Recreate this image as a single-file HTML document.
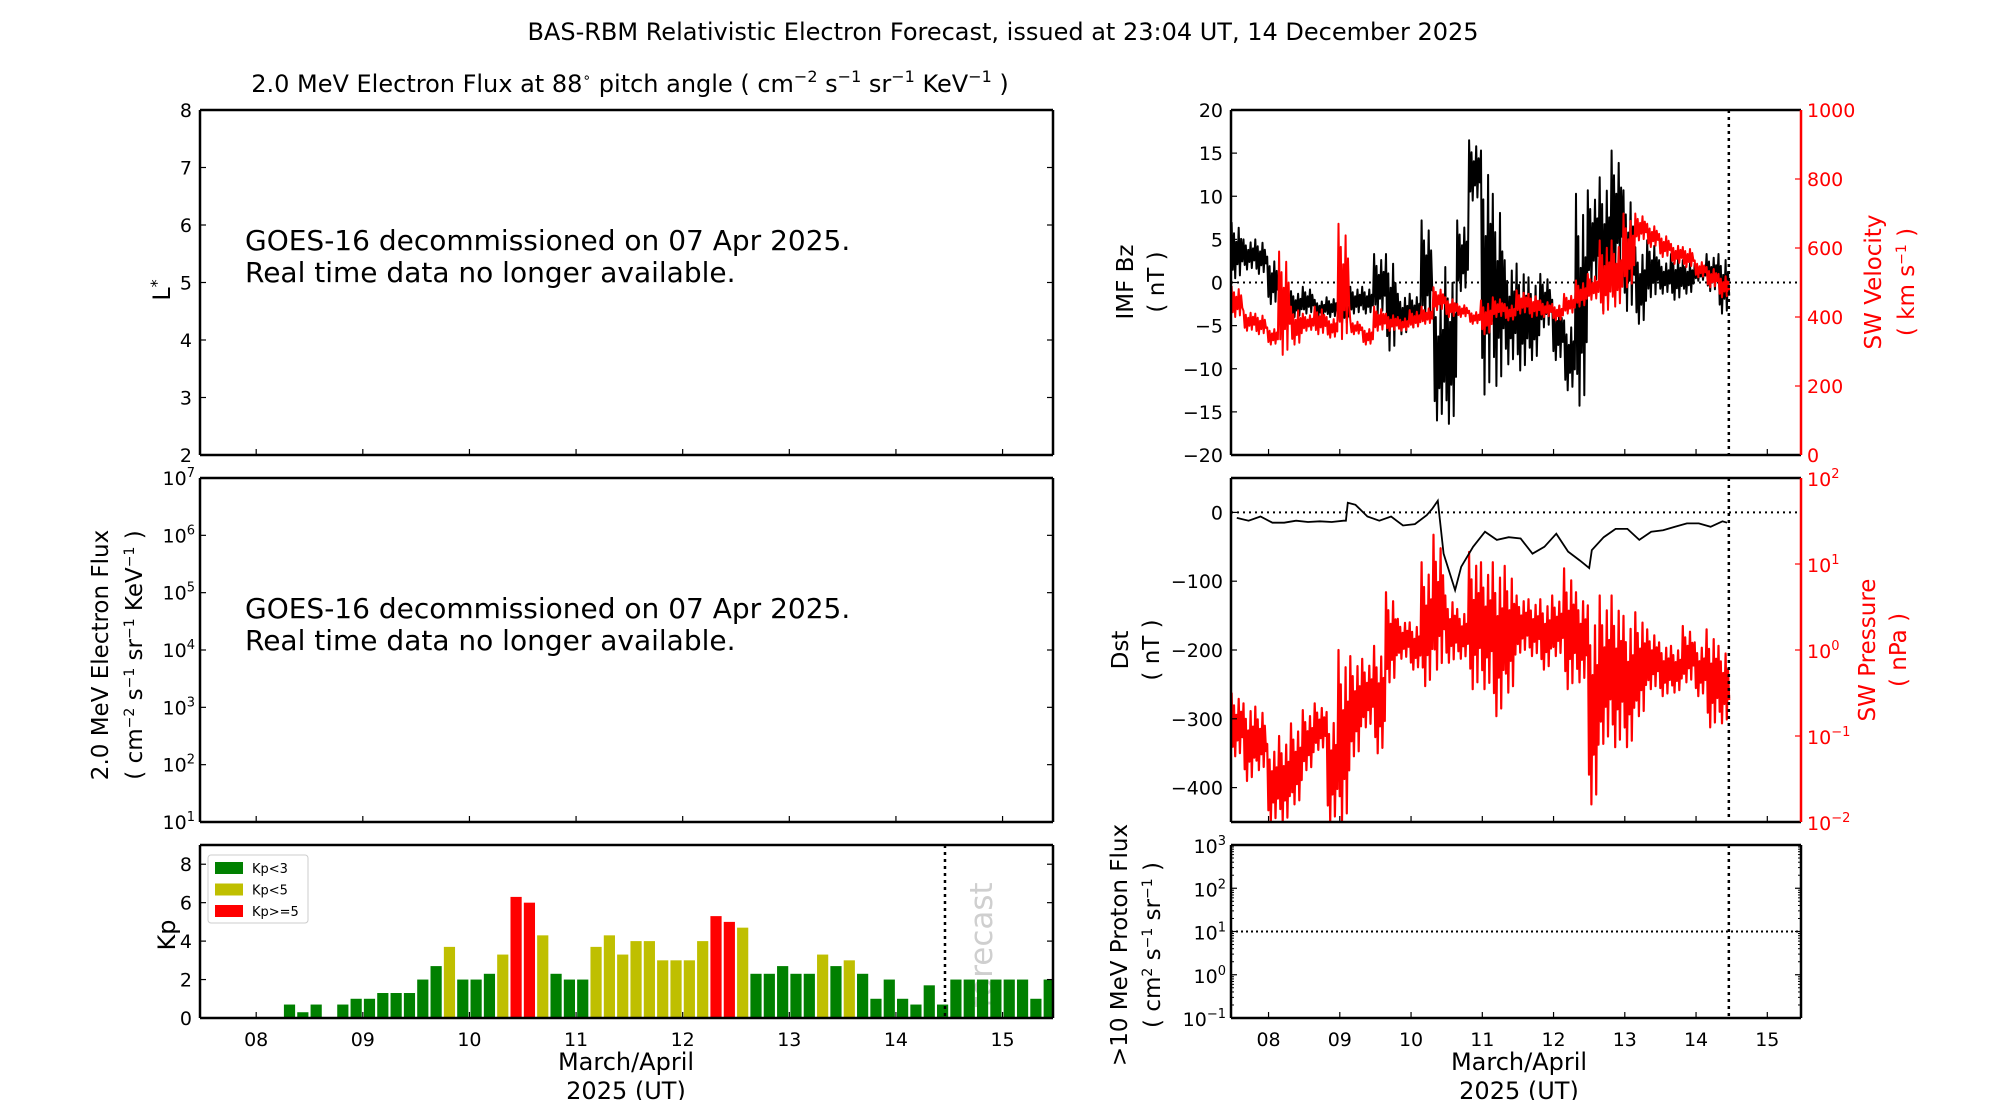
<!DOCTYPE html>
<html><head><meta charset="utf-8"><style>
html,body{margin:0;padding:0;background:#fff;}
svg{display:block;font-family:"DejaVu Sans","Liberation Sans",sans-serif;}
</style></head><body>
<svg id="chart" width="2000" height="1100" viewBox="0 0 2000 1100" xmlns="http://www.w3.org/2000/svg">
<rect x="0" y="0" width="2000" height="1100" fill="#fff"/>
<text x="1003" y="40" font-size="24" text-anchor="middle">BAS-RBM Relativistic Electron Forecast, issued at 23:04 UT, 14 December 2025</text>
<text x="630" y="92" font-size="24" text-anchor="middle">2.0 MeV Electron Flux at 88<tspan font-size="14" dy="-10">∘</tspan><tspan dy="10"> pitch angle ( cm</tspan><tspan font-size="16" dy="-10">−2</tspan><tspan dy="10"> s</tspan><tspan font-size="16" dy="-10">−1</tspan><tspan dy="10"> sr</tspan><tspan font-size="16" dy="-10">−1</tspan><tspan dy="10"> KeV</tspan><tspan font-size="16" dy="-10">−1</tspan><tspan dy="10"> )</tspan></text>
<g id="layer"></g>
</svg>
<script>
// ---- data ----
const kpValues = [0,0,0,0,0,0,0.7,0.3,0.7,0,0.7,1,1,1.3,1.3,1.3,2,2.7,3.7,2,2,2.3,3.3,6.3,6,4.3,2.3,2,2,3.7,4.3,3.3,4,4,3,3,3,4,5.3,5,4.7,2.3,2.3,2.7,2.3,2.3,3.3,2.7,3,2.3,1,2,1,0.7,1.7,0.7,2,2,2,2,2,2,1,2];
const dayTickLabels = ["08","09","10","11","12","13","14","15"];
const lstarTicks = [2,3,4,5,6,7,8];
const fluxDecades = [1,2,3,4,5,6,7];
const kpTicks = [0,2,4,6,8];
const bzTicks = [-20,-15,-10,-5,0,5,10,15,20];
const velTicks = [0,200,400,600,800,1000];
const dstTicks = [0,-100,-200,-300,-400];
const presDecades = [-2,-1,0,1,2];
const protonDecades = [-1,0,1,2,3];
// 4-hour bins starting 7.973 (days)
const bzLo = [0.5,1.5,1,-2.5,-3.6,-4,-3.6,-4,-4,-4.8,-3.6,-3.6,-3.6,-7.9,-6,-5.2,-4.4,-16,-16.4,-1,9.5,-13,-12,-9.5,-10.2,-9,-5.2,-9,-12.5,-14.3,-0.2,-3.3,1,-3.3,-4.8,-1.7,-1.3,-2,-1.3,0.2,-1,-3.6];
const bzHi = [7,5,5,3,-0.5,-1,-0.5,-2,-1.7,-2,-0.5,-0.5,3.3,3.3,-1.3,-1.3,7.2,-1,1.8,7.2,16.5,15.3,10.3,2.6,2.2,0.6,1,-2,-4.4,10.3,10.7,12.2,15.3,10.7,4.1,4.9,2.6,3.3,2.6,2.2,3.3,3.3];
const velLo = [400,360,350,320,290,320,360,350,340,336,350,320,360,360,360,370,380,420,400,400,380,350,400,390,410,400,400,390,410,430,450,410,430,486,622,603,574,554,545,515,486,457];
const velHi = [490,418,410,370,590,430,410,430,400,670,390,370,430,410,400,420,430,486,457,438,418,448,457,438,477,467,448,438,467,506,525,622,622,700,700,670,641,612,603,564,545,525];
const presLo = [0.058,0.03,0.04,0.01,0.01,0.016,0.04,0.069,0.01,0.01,0.058,0.126,0.063,0.42,0.79,0.59,0.38,0.59,0.71,0.79,0.35,0.35,0.17,0.32,0.93,0.85,0.59,0.85,0.35,0.42,0.016,0.081,0.074,0.074,0.17,0.35,0.29,0.32,0.42,0.29,0.126,0.14];
const presHi = [0.32,0.24,0.22,0.081,0.1,0.14,0.2,0.24,0.19,1,0.85,0.79,1.12,4.7,2.3,2.1,10.5,21.9,4.3,3.0,13.8,10.5,10.5,9.5,4.3,3.9,3.9,4.3,8.9,4.7,3.3,4.3,4.3,2.5,2.75,1.74,1.23,1.12,1.9,1.23,1.74,1.12];
const dstTime = [8.054,8.220,8.387,8.554,8.720,8.887,9.054,9.220,9.387,9.554,9.586,9.613,9.720,9.887,10.054,10.220,10.387,10.554,10.720,10.795,10.876,10.957,11.118,11.204,11.371,11.538,11.704,11.871,12.038,12.204,12.371,12.538,12.704,12.871,13.0,13.037,13.204,13.371,13.537,13.704,13.871,14.038,14.204,14.371,14.538,14.704,14.871,14.935];
const dstValue = [-8,-12,-6,-15,-15,-12,-14,-13,-14,-12,-12,14,11,-6,-12,-6,-19,-17,-4,5,17,-60,-113,-79,-50,-28,-40,-36,-38,-60,-50,-31,-57,-70,-81,-55,-36,-24,-24,-40,-28,-26,-21,-16,-16,-21,-13,-15];
const binStart = 7.973, binDays = 1/6, tMin = 7.973, tMax = 15.973, issueTime = 14.96;

// ---- helpers ----
const NS = "http://www.w3.org/2000/svg";
const layer = document.getElementById('layer');
function el(tag, attrs, parent){ const e=document.createElementNS(NS,tag); for(const k in attrs) e.setAttribute(k,attrs[k]); (parent||layer).appendChild(e); return e; }
function txt(s, attrs, parent){ const e=el('text',attrs,parent); e.textContent=s; return e; }
function sup(parent, base, exp, x, y, anchor, fill){
  const t=el('text',{x:x,y:y,'font-size':19,'text-anchor':anchor,fill:fill||'#000'},parent);
  const a=document.createElementNS(NS,'tspan'); a.textContent=base; t.appendChild(a);
  const b=document.createElementNS(NS,'tspan'); b.setAttribute('font-size','13'); b.setAttribute('dy','-8'); b.textContent=exp; t.appendChild(b);
  return t;
}
const L={x0:200,x1:1053}, R={x0:1231,x1:1801};
const P1={y0:110,y1:455}, P2={y0:478,y1:822}, P3={y0:845,y1:1018};
function xs(pan){ return t => pan.x0 + (t-tMin)/(tMax-tMin)*(pan.x1-pan.x0); }
function lin(p, a, b){ return v => p.y1 - (v-a)/(b-a)*(p.y1-p.y0); }
function logs(p, a, b){ return v => p.y1 - (Math.log10(v)-a)/(b-a)*(p.y1-p.y0); }
const xL=xs(L), xR=xs(R);

function frame(pan, p, name){
  const g=el('g',{});
  
  
  const clip=el('clipPath',{id:'clip-'+name},g);
  el('rect',{x:pan.x0,y:p.y0,width:pan.x1-pan.x0,height:p.y1-p.y0},clip);
  const plot=el('g',{'clip-path':'url(#clip-'+name+')'},g);
  return {g,plot};
}
function spines(g, pan, p, rightColor){
  el('line',{x1:pan.x0,y1:p.y0,x2:pan.x1,y2:p.y0,stroke:'#000','stroke-width':2.5},g);
  el('line',{x1:pan.x0,y1:p.y1,x2:pan.x1,y2:p.y1,stroke:'#000','stroke-width':2.5},g);
  el('line',{x1:pan.x0,y1:p.y0,x2:pan.x0,y2:p.y1,stroke:'#000','stroke-width':2.5},g);
  el('line',{x1:pan.x1,y1:p.y0,x2:pan.x1,y2:p.y1,stroke:rightColor||'#000','stroke-width':2.5},g);
}
function xTicks(g, pan, p, xf, labels){
  dayTickLabels.forEach((lab,i)=>{
    const x=xf(8.5+i);
    el('line',{x1:x,y1:p.y1,x2:x,y2:p.y1-6,stroke:'#000','stroke-width':1.2},g);
    if(labels){ const t=txt(lab,{x:x,y:p.y1+28,'font-size':19,'text-anchor':'middle'},g);
        }
  });
}
function yTickL(g, pan, y, both){
  el('line',{x1:pan.x0,y1:y,x2:pan.x0+6,y2:y,stroke:'#000','stroke-width':1.2},g);
  if(both) el('line',{x1:pan.x1,y1:y,x2:pan.x1-6,y2:y,stroke:'#000','stroke-width':1.2},g);
}
function zigzag(lo, hi, yf, xf){
  const pat=[1,0.15,0.8,0,0.65,0.25,0.9,0.05,0.7,0.3];
  let pts=[];
  for(let k=0;k<lo.length;k++){
    const ya=yf(lo[k]), yb=yf(hi[k]);
    pat.forEach((f,j)=>{ const t=binStart+binDays*(k+(j+0.5)/pat.length); pts.push(xf(t).toFixed(1)+','+(ya+(yb-ya)*f).toFixed(1)); });
  }
  return pts.join(' ');
}
function xlabel(cx){
  const a=txt('March/April',{x:cx,y:1070,'font-size':24,'text-anchor':'middle'});
   
  const b=txt('2025 (UT)',{x:cx,y:1099,'font-size':24,'text-anchor':'middle'});
   
}
function rotLabel(lines, x, y, size, fill, name){
  const t=el('text',{transform:'translate('+x+','+y+') rotate(-90)','font-size':size,'text-anchor':'middle',fill:fill||'#000'});
   
  t.innerHTML=lines; return t;
}

// ---- Panel L1: L* ----
{
  const f=frame(L,P1,'lstar-panel'); const y=lin(P1,2,8);
  lstarTicks.forEach(v=>{ yTickL(f.g,L,y(v),true); const t=txt(String(v),{x:L.x0-8,y:y(v)+7,'font-size':19,'text-anchor':'end'},f.g);   });
  xTicks(f.g,L,P1,xL,false); spines(f.g,L,P1);
  const m=el('text',{x:245,y:250,'font-size':28},f.g);  
  m.innerHTML='<tspan x="245">GOES-16 decommissioned on 07 Apr 2025.</tspan><tspan x="245" dy="32">Real time data no longer available.</tspan>';
  rotLabel('L<tspan font-size="16" dy="-8">*</tspan>',170,290,24,'#000','y-axis-title-lstar');
}
// ---- Panel L2: electron flux ----
{
  const f=frame(L,P2,'electron-flux-panel'); const y=lin(P2,1,7);
  fluxDecades.forEach(v=>{ yTickL(f.g,L,y(v),true); const t=sup(f.g,'10',String(v),L.x0-5,y(v)+7,'end');   });
  xTicks(f.g,L,P2,xL,false); spines(f.g,L,P2);
  const m=el('text',{x:245,y:618,'font-size':28},f.g);  
  m.innerHTML='<tspan x="245">GOES-16 decommissioned on 07 Apr 2025.</tspan><tspan x="245" dy="32">Real time data no longer available.</tspan>';
  rotLabel('<tspan x="0" dy="-16">2.0 MeV Electron Flux</tspan><tspan x="0" dy="34">( cm<tspan font-size="14" dy="-8">−2</tspan><tspan dy="8"> s</tspan><tspan font-size="14" dy="-8">−1</tspan><tspan dy="8"> sr</tspan><tspan font-size="14" dy="-8">−1</tspan><tspan dy="8"> KeV</tspan><tspan font-size="14" dy="-8">−1</tspan><tspan dy="8"> )</tspan></tspan>',124,655,23,'#000','y-axis-title-flux');
}
// ---- Panel L3: Kp ----
{
  const f=frame(L,P3,'kp-panel'); const y=lin(P3,0,9);
  const fc=el('text',{transform:'translate('+(xL(15.3)+11)+',945) rotate(-90)','font-size':31,'text-anchor':'middle',fill:'#cfcfcf'},f.plot);
    fc.textContent='forecast';
  kpValues.forEach((v,i)=>{
    if(v<=0) return;
    const t0=8+i*0.125, xa=xL(t0+0.01), xb=xL(t0+0.115);
    const col=v>=5?'#ff0000':(v>=3?'#bfbf00':'#008000');
    const r=el('rect',{x:xa,y:y(v),width:xb-xa,height:P3.y1-y(v),fill:col},f.plot);
     
  });
  el('line',{x1:xL(issueTime),y1:P3.y0,x2:xL(issueTime),y2:P3.y1,stroke:'#000','stroke-width':2.5,'stroke-dasharray':'3,4'},f.plot);
  kpTicks.forEach(v=>{ yTickL(f.g,L,y(v),true); const t=txt(String(v),{x:L.x0-8,y:y(v)+7,'font-size':19,'text-anchor':'end'},f.g);   });
  xTicks(f.g,L,P3,xL,true); spines(f.g,L,P3);
  const lg=el('g',{},f.g);  
  el('rect',{x:208,y:855,width:100,height:68,fill:'#fff',stroke:'#ccc','stroke-width':1,rx:3},lg);
  [['Kp<3','#008000'],['Kp<5','#bfbf00'],['Kp>=5','#ff0000']].forEach((e,i)=>{
    const gy=868+i*21.5;
    const r=el('rect',{x:215,y:gy-6,width:28,height:12,fill:e[1]},lg);  
    const t=txt(e[0],{x:252,y:gy+5,'font-size':13},lg);  
  });
  rotLabel('Kp',175,935,24,'#000','y-axis-title-kp');
}
xlabel(626);
// ---- Panel R1: IMF Bz + velocity ----
{
  const f=frame(R,P1,'imf-panel'); const y=lin(P1,-20,20), yv=lin(P1,0,1000);
  el('line',{x1:R.x0,y1:y(0),x2:R.x1,y2:y(0),stroke:'#000','stroke-width':2,'stroke-dasharray':'2,4'},f.plot);
  const bz=el('polyline',{points:zigzag(bzLo,bzHi,y,xR),fill:'none',stroke:'#000','stroke-width':2,'stroke-linejoin':'round'},f.plot);
   
  const vl=el('polyline',{points:zigzag(velLo,velHi,yv,xR),fill:'none',stroke:'#ff0000','stroke-width':2,'stroke-linejoin':'round'},f.plot);
   
  el('line',{x1:xR(issueTime),y1:P1.y0,x2:xR(issueTime),y2:P1.y1,stroke:'#000','stroke-width':2.5,'stroke-dasharray':'3,4'},f.plot);
  bzTicks.forEach(v=>{ yTickL(f.g,R,y(v),false); const t=txt(String(v).replace('-','−'),{x:R.x0-8,y:y(v)+7,'font-size':19,'text-anchor':'end'},f.g);   });
  velTicks.forEach(v=>{ el('line',{x1:R.x1,y1:yv(v),x2:R.x1-6,y2:yv(v),stroke:'#ff0000','stroke-width':1.2},f.g); const t=txt(String(v),{x:R.x1+6,y:yv(v)+7,'font-size':19,fill:'#ff0000'},f.g);   });
  xTicks(f.g,R,P1,xR,false); spines(f.g,R,P1,'#ff0000');
  rotLabel('<tspan x="0" dy="-15">IMF Bz</tspan><tspan x="0" dy="31">( nT )</tspan>',1148,282,23,'#000','y-axis-title-bz');
  rotLabel('<tspan x="0" dy="-15">SW Velocity</tspan><tspan x="0" dy="33">( km s<tspan font-size="14" dy="-8">−1</tspan><tspan dy="8"> )</tspan></tspan>',1896,282,23,'#ff0000','y-axis-title-velocity');
}
// ---- Panel R2: Dst + pressure ----
{
  const f=frame(R,P2,'dst-panel'); const y=lin(P2,-450,50), yp=logs(P2,-2,2);
  el('line',{x1:R.x0,y1:y(0),x2:R.x1,y2:y(0),stroke:'#000','stroke-width':2,'stroke-dasharray':'2,4'},f.plot);
  const pl=el('polyline',{points:zigzag(presLo,presHi,yp,xR),fill:'none',stroke:'#ff0000','stroke-width':2.2,'stroke-linejoin':'round'},f.plot);
   
  const dpts=dstTime.map((t,i)=>xR(t).toFixed(1)+','+y(dstValue[i]).toFixed(1)).join(' ');
  const dl=el('polyline',{points:dpts,fill:'none',stroke:'#000','stroke-width':1.8},f.plot);
   
  el('line',{x1:xR(issueTime),y1:P2.y0,x2:xR(issueTime),y2:P2.y1,stroke:'#000','stroke-width':2.5,'stroke-dasharray':'3,4'},f.plot);
  dstTicks.forEach(v=>{ yTickL(f.g,R,y(v),false); const t=txt(String(v).replace('-','−'),{x:R.x0-8,y:y(v)+7,'font-size':19,'text-anchor':'end'},f.g);   });
  presDecades.forEach(v=>{ el('line',{x1:R.x1,y1:yp(Math.pow(10,v)),x2:R.x1-6,y2:yp(Math.pow(10,v)),stroke:'#ff0000','stroke-width':1.2},f.g); const t=sup(f.g,'10',String(v).replace('-','−'),R.x1+6,yp(Math.pow(10,v))+8,'start','#ff0000');   });
  xTicks(f.g,R,P2,xR,false); spines(f.g,R,P2,'#ff0000');
  rotLabel('<tspan x="0" dy="-15">Dst</tspan><tspan x="0" dy="31">( nT )</tspan>',1143,650,23,'#000','y-axis-title-dst');
  rotLabel('<tspan x="0" dy="-15">SW Pressure</tspan><tspan x="0" dy="31">( nPa )</tspan>',1890,650,23,'#ff0000','y-axis-title-pressure');
}
// ---- Panel R3: proton flux ----
{
  const f=frame(R,P3,'proton-panel'); const y=lin(P3,-1,3);
  el('line',{x1:R.x0,y1:y(1),x2:R.x1,y2:y(1),stroke:'#000','stroke-width':2,'stroke-dasharray':'2,3'},f.plot);
  el('line',{x1:xR(issueTime),y1:P3.y0,x2:xR(issueTime),y2:P3.y1,stroke:'#000','stroke-width':2.5,'stroke-dasharray':'3,4'},f.plot);
  protonDecades.forEach((v,i)=>{
    yTickL(f.g,R,y(v),true);
    if(i<protonDecades.length-1) for(let m=2;m<10;m++){ const yy=y(v+Math.log10(m)); el('line',{x1:R.x0,y1:yy,x2:R.x0+3,y2:yy,stroke:'#000','stroke-width':1},f.g); el('line',{x1:R.x1,y1:yy,x2:R.x1-3,y2:yy,stroke:'#000','stroke-width':1},f.g); }
    const t=sup(f.g,'10',String(v).replace('-','−'),R.x0-5,y(v)+8,'end');  
  });
  xTicks(f.g,R,P3,xR,true); spines(f.g,R,P3);
  rotLabel('<tspan x="0" dy="-15">&gt;10 MeV Proton Flux</tspan><tspan x="0" dy="33">( cm<tspan font-size="14" dy="-8">2</tspan><tspan dy="8"> s</tspan><tspan font-size="14" dy="-8">−1</tspan><tspan dy="8"> sr</tspan><tspan font-size="14" dy="-8">−1</tspan><tspan dy="8"> )</tspan></tspan>',1142,945,23,'#000','y-axis-title-proton');
}
xlabel(1519);
</script>
</body></html>
